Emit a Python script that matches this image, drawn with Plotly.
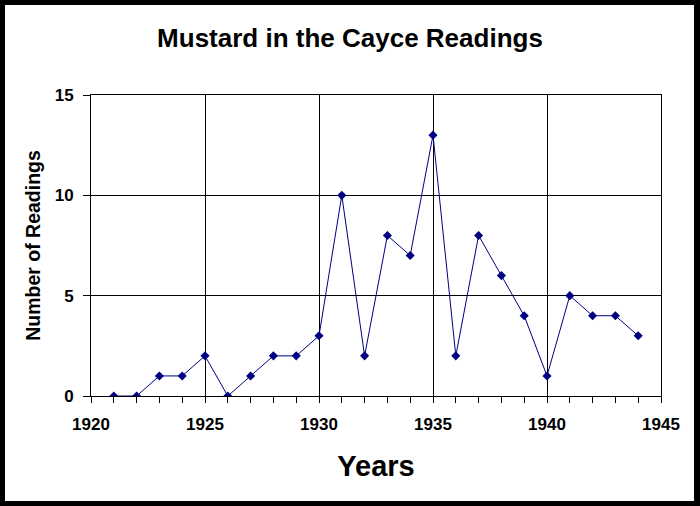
import plotly.graph_objects as go

# Mustard in the Cayce Readings - number of readings per year
years = [1921, 1922, 1923, 1924, 1925, 1926, 1927, 1928, 1929, 1930, 1931, 1932,
         1933, 1934, 1935, 1936, 1937, 1938, 1939, 1940, 1941, 1942, 1943, 1944]
readings = [0, 0, 1, 1, 2, 0, 1, 2, 2, 3, 10, 2,
            8, 7, 13, 2, 8, 6, 4, 1, 5, 4, 4, 3]

FONT = "Liberation Sans, Arial, sans-serif"
NAVY = "#000080"

# plot area in pixels: x 91..661, y 95..396
L, R, T, B = 91, 39, 95, 110
W, H = 700, 506
pw, ph = W - L - R, H - T - B

fig = go.Figure()
fig.add_trace(go.Scatter(
    x=years, y=readings, mode="lines+markers",
    line=dict(color=NAVY, width=1),
    marker=dict(symbol="diamond", size=7, color=NAVY),
    showlegend=False,
))

# white card inside a black frame
fig.add_shape(type="rect", xref="paper", yref="paper", layer="below",
              x0=(5 - L) / pw, x1=(694 - L) / pw,
              y0=(H - B - 501) / ph, y1=(H - B - 5) / ph,
              fillcolor="white", line=dict(width=0))

fig.update_layout(
    width=W, height=H,
    margin=dict(l=L, r=R, t=T, b=B),
    paper_bgcolor="black",
    plot_bgcolor="white",
    font=dict(family=FONT, color="black", size=17),
    title=dict(text="<b>Mustard in the Cayce Readings</b>", x=0.5, xanchor="center",
               y=1 - 38 / H, yanchor="middle", font=dict(size=26, color="black")),
)

fig.update_xaxes(
    range=[1920, 1945], dtick=5, tick0=1920,
    showgrid=True, gridcolor="black", gridwidth=1,
    showline=True, linecolor="black", linewidth=1, mirror=True,
    ticks="outside", ticklen=6, tickcolor="black",
    minor=dict(dtick=1, ticks="outside", ticklen=6, tickcolor="black", showgrid=False),
    tickfont=dict(size=17), ticklabelstandoff=7,
    tickprefix="<b>", ticksuffix="</b>",
    zeroline=False,
    title=dict(text="<b>Years</b>", font=dict(size=29), standoff=22),
)
fig.update_yaxes(
    range=[0, 15], dtick=5,
    showgrid=True, gridcolor="black", gridwidth=1,
    showline=True, linecolor="black", linewidth=1, mirror=True,
    ticks="outside", ticklen=7, tickcolor="black",
    tickfont=dict(size=17), ticklabelstandoff=6,
    tickprefix="<b>", ticksuffix="</b>",
    zeroline=False,
    title=dict(text="<b>Number of Readings</b>", font=dict(size=19.5), standoff=8),
)

fig.write_html("out.html", config={"displayModeBar": False},
               post_script="document.body.style.margin='0';")
